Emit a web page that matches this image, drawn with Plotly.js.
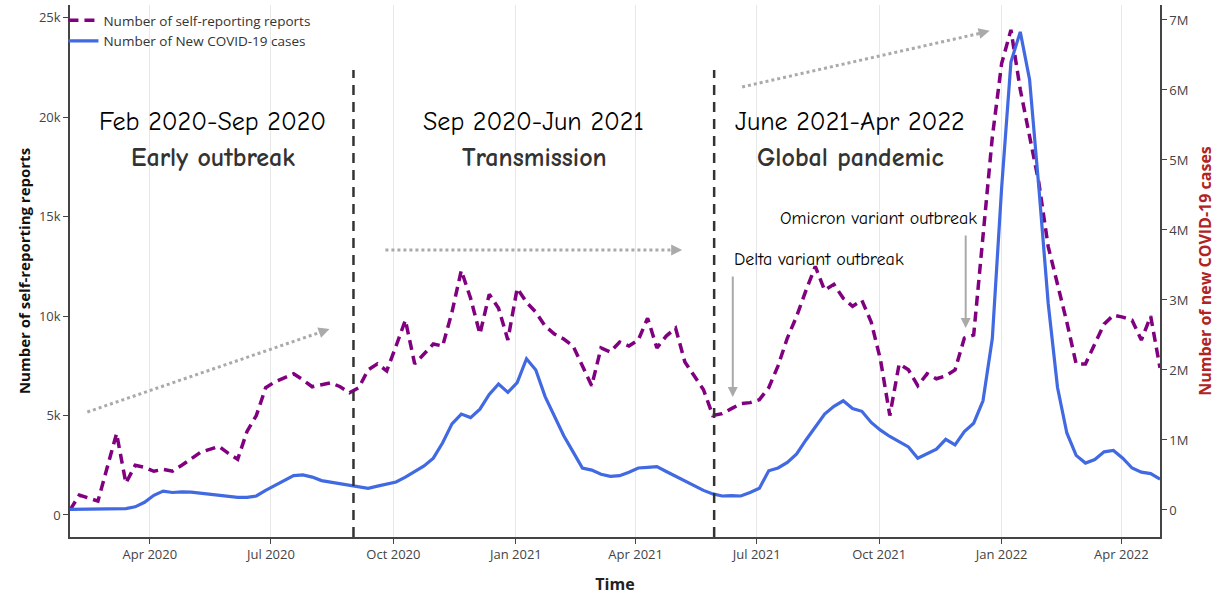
<!DOCTYPE html>
<html><head><meta charset="utf-8">
<script src="https://cdn.plot.ly/plotly-3.0.1.min.js"></script>
<style>html,body{margin:0;padding:0;background:#fff}#chart{width:1218px;height:595px}</style>
</head><body><div id="chart"></div>
<script>
// Weekly series starting 2020-02-01
const startYear = 2020, startMonth = 1, startDay = 1;

const reports = [250,1000,850,700,2400,4100,1600,2500,2400,2200,
  2300,2200,2500,2800,3150,3300,3450,3100,2800,4200,
  5000,6400,6700,6900,7100,6800,6450,6550,6650,6450,
  6150,6400,7300,7600,7250,8500,9800,7600,8100,8600,
  8500,10200,12300,10900,9100,11100,10400,8800,11400,10700,
  10200,9500,9100,8850,8500,7500,6500,8400,8200,8700,
  8500,8800,9900,8400,9000,9400,7700,7000,6300,5000,
  5100,5350,5600,5650,5800,6400,7500,8900,10000,11300,
  12500,11300,11600,10900,10500,10800,9700,7800,5000,7600,
  7300,6500,7100,6850,7000,7300,8900,9050,14000,19000,
  22700,24400,21400,19000,16700,13500,11600,9700,7600,7600,
  8600,9600,10050,9950,9800,8800,10000,7400];

const cases = [10000,10000,10000,10000,10000,12000,20000,45000,110000,210000,
  270000,250000,260000,255000,240000,220000,210000,190000,180000,180000,
  200000,280000,350000,410000,490000,500000,470000,420000,400000,370000,
  350000,340000,310000,340000,370000,400000,470000,550000,630000,740000,
  960000,1230000,1370000,1320000,1440000,1650000,1800000,1680000,1820000,2160000,
  2000000,1620000,1330000,1060000,830000,600000,570000,510000,480000,490000,
  540000,600000,610000,620000,550000,480000,410000,340000,280000,230000,
  200000,205000,200000,250000,310000,560000,600000,680000,800000,1000000,
  1190000,1370000,1480000,1560000,1450000,1410000,1250000,1140000,1050000,980000,
  900000,740000,810000,870000,1010000,930000,1120000,1240000,1560000,2450000,
  4600000,6400000,6830000,6150000,4600000,2950000,1750000,1100000,780000,670000,
  720000,830000,850000,740000,600000,540000,520000,440000];

const dates = [];
for (let i = 0; i < reports.length; i++) {
  const d = new Date(Date.UTC(startYear, startMonth, startDay) + i * 7 * 86400000);
  dates.push(d.toISOString().slice(0, 10));
}

const periodLabels = ['Feb 2020-Sep 2020', 'Sep 2020-Jun 2021', 'June 2021-Apr 2022'];
const periodNames = ['Early outbreak', 'Transmission', 'Global pandemic'];
const periodBreaks = ['2020-09-01', '2021-05-30'];

const comic = 'Comic Sans MS, Comic Neue, cursive';

const traces = [
  {x: dates, y: reports, name: 'Number of self-reporting reports', type: 'scatter', mode: 'lines',
   line: {color: '#800080', width: 3.5, dash: '10px,6px'}, yaxis: 'y'},
  {x: dates, y: cases, name: 'Number of New COVID-19 cases', type: 'scatter', mode: 'lines',
   line: {color: '#4169E1', width: 3.2}, yaxis: 'y2'}
];

const shapes = periodBreaks.map(d => ({type: 'line', xref: 'x', yref: 'paper', x0: d, x1: d, y0: 0, y1: 0.878,
  line: {color: '#333', width: 2.5, dash: '10px,7px'}}));

const dotted = [
  ['2020-02-14', 5180, '2020-08-11', 9280],
  ['2020-09-25', 13330, '2021-05-02', 13330],
  ['2021-06-20', 21530, '2021-12-20', 24290]
];
dotted.forEach(a => shapes.push({type: 'line', xref: 'x', yref: 'y', x0: a[0], y0: a[1], x1: a[2], y1: a[3],
  line: {color: '#aaaaaa', width: 3, dash: 'dot'}}));

const annotations = [];
const labelX = [0.131, 0.425, 0.7156];
const nameX = [0.131, 0.4266, 0.7165];
const txt = (x, y, text, size, color, weight) => ({xref: 'paper', yref: 'paper', x: x, y: y, text: text,
  showarrow: false, xanchor: 'center', yanchor: 'middle', font: {family: comic, size: size, color: color, weight: weight}});
for (let i = 0; i < 3; i++) {
  annotations.push(txt(labelX[i], 0.780, periodLabels[i], 26, '#000', 400));
  annotations.push(txt(nameX[i], 0.712, periodNames[i], 26, '#333', 700));
}
annotations.push(txt(0.6876, 0.5207, 'Delta variant outbreak', 18, '#000', 400));
annotations.push(txt(0.7417, 0.5996, 'Omicron variant outbreak', 18, '#000', 400));
// solid gray arrows
annotations.push({xref: 'x', yref: 'y', x: '2021-06-13', y: 5940, ax: 0, ay: -122, text: '', showarrow: true,
  arrowcolor: '#aaaaaa', arrowwidth: 2, arrowhead: 2, arrowsize: 1});
annotations.push({xref: 'x', yref: 'y', x: '2021-12-05', y: 9400, ax: 0, ay: -94, text: '', showarrow: true,
  arrowcolor: '#aaaaaa', arrowwidth: 2, arrowhead: 2, arrowsize: 1});
// heads of dotted arrows
const heads = [['2020-08-14', 9360, -11, 4], ['2021-05-06', 13330, -12, 0], ['2021-12-23', 24350, -12, 3]];
heads.forEach(h => annotations.push({xref: 'x', yref: 'y', x: h[0], y: h[1], ax: h[2], ay: h[3], text: '', showarrow: true,
  arrowcolor: '#aaaaaa', arrowwidth: 2, arrowhead: 2, arrowsize: 1.1}));

const layout = {
  width: 1218, height: 595,
  margin: {l: 70, r: 58, t: 5, b: 58},
  font: {family: 'Open Sans', color: '#444'},
  paper_bgcolor: '#fff', plot_bgcolor: '#fff',
  showlegend: true,
  legend: {x: -0.006, y: 1, xanchor: 'left', yanchor: 'top', bgcolor: 'rgba(0,0,0,0)',
    font: {size: 13.5, color: '#333'}, tracegroupgap: 0},
  xaxis: {type: 'date', range: ['2020-02-01', '2022-04-30'], dtick: 'M3', tick0: '2020-01-01', tickformat: '%b %Y',
    showgrid: true, gridcolor: '#e8e8e8', zeroline: false, showline: true, linecolor: '#444', linewidth: 1.5,
    ticks: 'outside', ticklen: 5, tickcolor: '#444', tickfont: {size: 13, color: '#444'},
    title: {text: 'Time', font: {size: 16, color: '#222', weight: 700}}},
  yaxis: {range: [-1107, 25650], dtick: 5000, tickformat: '~s', showgrid: false, zeroline: false,
    showline: true, linecolor: '#444', linewidth: 1.5, ticks: 'outside', ticklen: 5, tickcolor: '#444',
    tickfont: {size: 13, color: '#444'},
    title: {text: 'Number of self-reporting reports', font: {size: 15, color: '#111', weight: 700}}},
  yaxis2: {overlaying: 'y', side: 'right', range: [-386000, 7214000], dtick: 1000000, tickformat: '~s',
    showgrid: false, zeroline: false, showline: true, linecolor: '#444', linewidth: 1.5, ticks: 'outside',
    ticklen: 5, tickcolor: '#444', tickfont: {size: 13, color: '#444'},
    title: {text: 'Number of new COVID-19 cases', font: {size: 16, color: '#B22222', weight: 700}}},
  shapes: shapes,
  annotations: annotations
};

Plotly.newPlot('chart', traces, layout, {displayModeBar: false, responsive: false});
</script>
</body></html>
